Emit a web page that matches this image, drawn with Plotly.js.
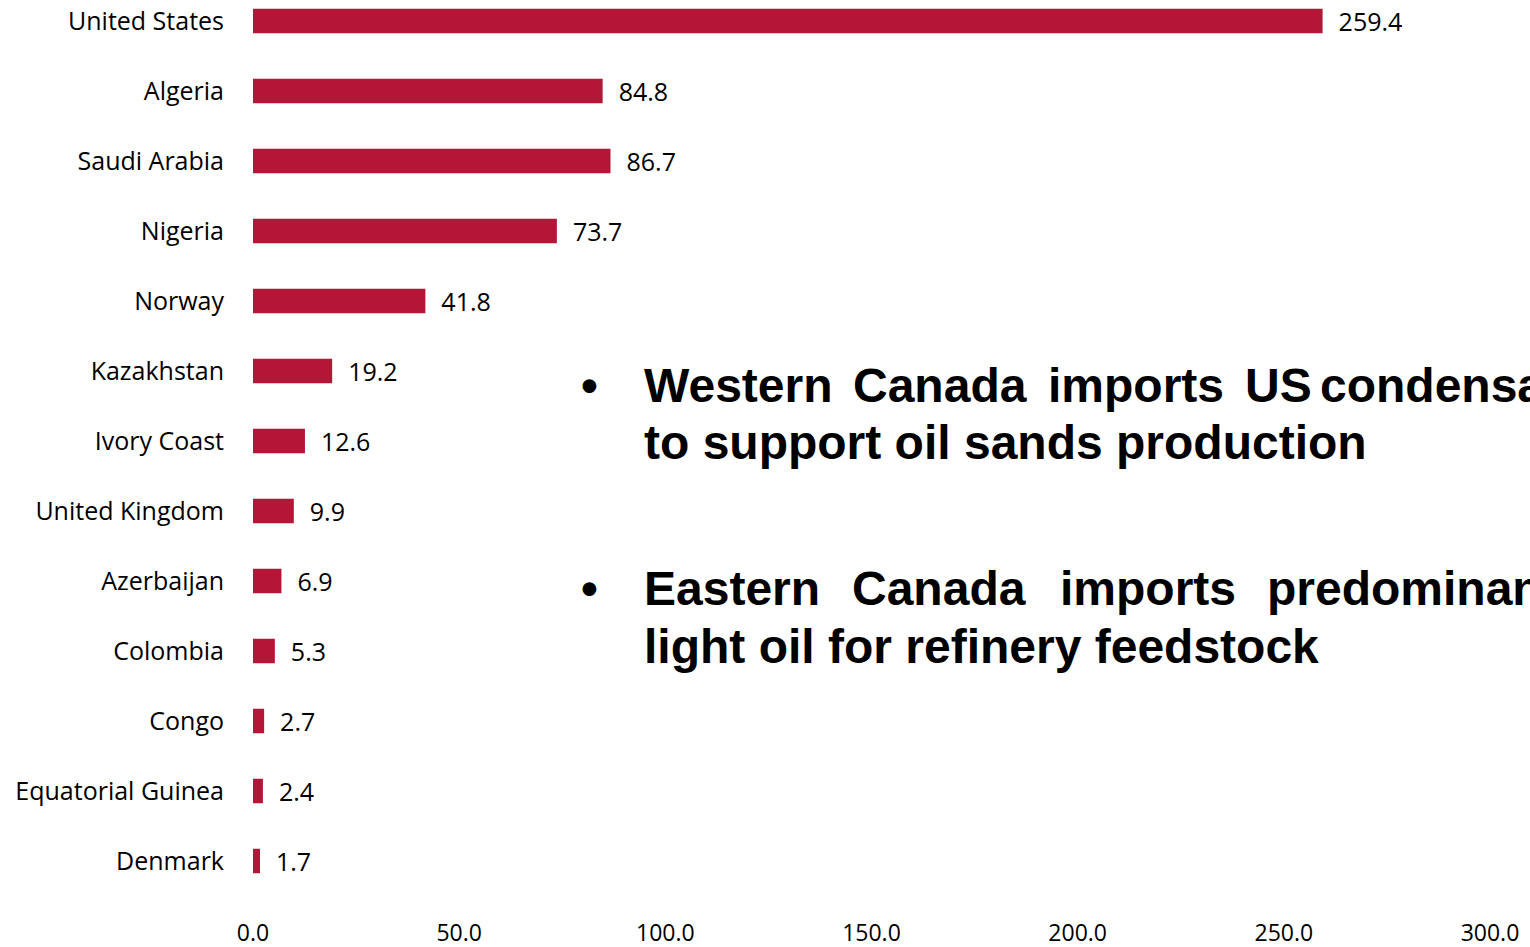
<!DOCTYPE html>
<html>
<head>
<meta charset="utf-8">
<script src="https://cdn.plot.ly/plotly-3.0.1.min.js"></script>
<style>html,body{margin:0;padding:0;background:#fff;overflow:hidden}#chart{width:1530px;height:947px}</style>
</head>
<body>
<div id="chart"></div>
<script>
const countries = ["United States","Algeria","Saudi Arabia","Nigeria","Norway","Kazakhstan","Ivory Coast","United Kingdom","Azerbaijan","Colombia","Congo","Equatorial Guinea","Denmark"];
const values = [259.4,84.8,86.7,73.7,41.8,19.2,12.6,9.9,6.9,5.3,2.7,2.4,1.7];
const xTicks = [0,50,100,150,200,250,300];

const bullet1Line1 = ["Western","Canada","imports","US","condensate"];
const bullet1Line2 = "to support oil sands production";
const bullet2Line1 = ["Eastern","Canada","imports","predominantly"];
const bullet2Line2 = "light oil for refinery feedstock";

const barColor = "#b41638";
const labelFont = {family: "Open Sans, Noto Sans, sans-serif", size: 25, color: "#000"};
const xTickFont = {family: "Open Sans, Noto Sans, sans-serif", size: 23, color: "#000"};
const textFont = {family: "Liberation Sans, Arial, sans-serif", size: 48, color: "#000"};

const trace = {
  type: "bar",
  orientation: "h",
  y: countries,
  x: values,
  marker: {color: barColor},
  width: 0.35,
  text: values.map(v => "\u00a0\u00a0" + v.toFixed(1)),
  textposition: "outside",
  constraintext: "none",
  textfont: labelFont,
  cliponaxis: false,
  hoverinfo: "skip"
};

const W = 1530;
const anns = [];
const line1X = [642, 851, 1046, 1243, 1318];
const line3X = [642, 850, 1058, 1265];
function addWord(text, x, yPx){
  anns.push({text: "<b>" + text + "</b>", xref: "paper", yref: "paper", x: 0, y: 0,
    xanchor: "left", yanchor: "middle", showarrow: false, font: textFont,
    _px: x, _py: yPx});
}
bullet1Line1.forEach((w,i) => addWord(w, line1X[i], 385));
addWord(bullet1Line2, 642, 442);
bullet2Line1.forEach((w,i) => addWord(w, line3X[i], 588));
addWord(bullet2Line2, 642, 646);
addWord("\u2022", 579, 385);
addWord("\u2022", 579, 588);

const mL = 253, mR = 40, mT = 0, mB = 37;
const plotW = W - mL - mR, plotH = 947 - mT - mB;
anns.forEach(a => {
  a.x = (a._px - mL) / plotW;
  a.y = 1 - (a._py - mT) / plotH;
  delete a._px; delete a._py;
});

const layout = {
  width: 1530, height: 947,
  margin: {l: mL, r: mR, t: mT, b: mB, pad: 0},
  paper_bgcolor: "#fff", plot_bgcolor: "#fff",
  showlegend: false,
  xaxis: {range: [0, 300], tickvals: xTicks, tickformat: ".1f", showgrid: false, zeroline: false,
    showline: false, ticks: "outside", ticklen: 2, tickcolor: "rgba(0,0,0,0)", tickfont: xTickFont, fixedrange: true},
  yaxis: {type: "category", range: [12.7, -0.3], showgrid: false, zeroline: false, showline: false,
    ticks: "outside", ticklen: 23, tickcolor: "rgba(0,0,0,0)", tickfont: labelFont, fixedrange: true},
  annotations: anns,
  bargap: 0.65
};

Plotly.newPlot("chart", [trace], layout, {staticPlot: true, displayModeBar: false});
</script>
</body>
</html>
